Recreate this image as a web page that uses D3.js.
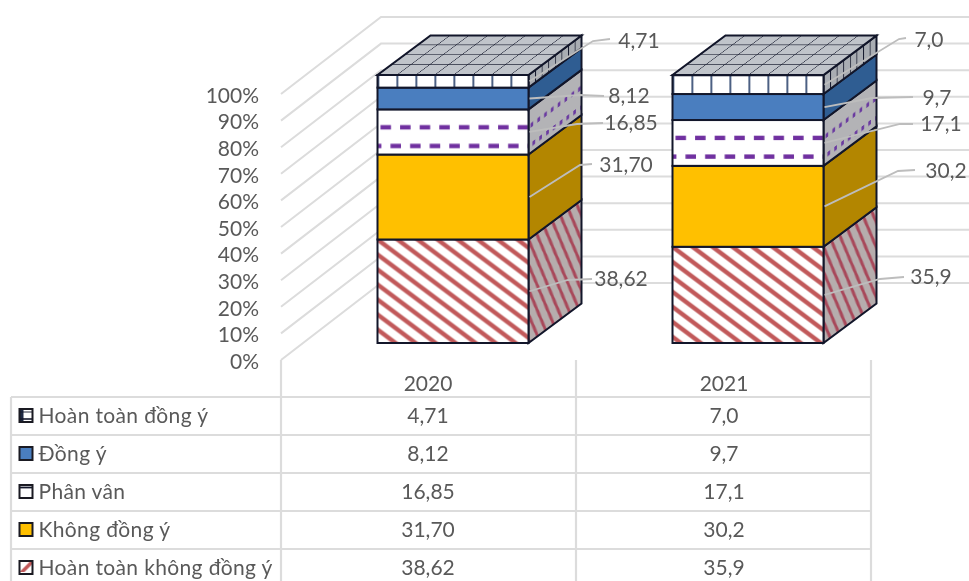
<!DOCTYPE html>
<html><head><meta charset="utf-8">
<script src="https://cdn.jsdelivr.net/npm/d3@7"></script>
<style>html,body{margin:0;padding:0;background:#fff}svg{display:block;filter:blur(.5px)}text{font-family:Lato,"Open Sans",sans-serif;fill:#595959}</style>
</head><body><svg id="c" width="969" height="581"></svg>
<script>
const years = ["2020","2021"];
const seriesNames = ["Hoàn toàn không đồng ý","Không đồng ý","Phân vân","Đồng ý","Hoàn toàn đồng ý"];
const values2020 = [38.62,31.70,16.85,8.12,4.71];
const values2021 = [35.9,30.2,17.1,9.7,7.0];
const labels2020 = ["38,62","31,70","16,85","8,12","4,71"];
const labels2021 = ["35,9","30,2","17,1","9,7","7,0"];
const tableOrder = [4,3,2,1,0];
const yTicks = [0,10,20,30,40,50,60,70,80,90,100];

const W=969,H=581, INK="#12162a", GRID="#dcdcdc", LEAD="#bdbdbd", FS=21;
const svg=d3.select("#c"), defs=svg.append("defs");
const wallOff={x:100,y:-77}, barOff={x:53,y:-39.5};
const yFront=d3.scaleLinear().domain([0,100]).range([360,94]);
const yBar=d3.scaleLinear().domain([0,100]).range([343,75]);
const xBand=d3.scaleBand().domain(years).range([281,871]);
const barW=151;
const barX=y=>xBand(y)+96.5;

function pat(id,w,h,bg,draw,tf){
  const p=defs.append("pattern").attr("id",id).attr("patternUnits","userSpaceOnUse").attr("width",w).attr("height",h);
  if(tf)p.attr("patternTransform",tf);
  p.append("rect").attr("width",w).attr("height",h).attr("fill",bg);
  draw(p);
}
const ln=(p,x1,y1,x2,y2,c,sw)=>p.append("line").attr("x1",x1).attr("y1",y1).attr("x2",x2).attr("y2",y2).attr("stroke",c).attr("stroke-width",sw);
const RED="#c1595a", PUR="#7030a0";
pat("hatchF",20,15,"#fff",p=>{[-20,0,20].forEach(o=>ln(p,o-4,-3,o+24,18,RED,4.4));});
pat("hatchS",8,25,"#b6adad",p=>{[-8,0,8].forEach(o=>ln(p,o-1,-3.1,o+9,27.9,"#a8485a",2.4));});
pat("dashF",19.6,60,"#fff",p=>{
  p.append("rect").attr("x",3).attr("y",15.7).attr("width",10.5).attr("height",4.4).attr("fill",PUR);
  p.append("rect").attr("x",13).attr("y",34.4).attr("width",6.6).attr("height",4.4).attr("fill",PUR);
  p.append("rect").attr("x",0).attr("y",34.4).attr("width",3.9).attr("height",4.4).attr("fill",PUR);
});
pat("dashS",6.8,60,"#b3b3b6",p=>{
  p.append("rect").attr("x",2).attr("y",15.5).attr("width",2.7).attr("height",4.4).attr("fill","#6a3aa0");
  p.append("rect").attr("x",4).attr("y",35).attr("width",2.7).attr("height",4.4).attr("fill","#6a3aa0");
});
pat("cellF",19,40,"#fff",p=>{ln(p,0,0,0,40,"#1f3864",3.2);});
pat("cellS",6.6,40,"#a9adb3",p=>{ln(p,0,0,0,40,INK,1.6);});
pat("cellT",18.9,9.9,"#c0c4ca",p=>{ln(p,0,0,0,9.9,INK,1.6);ln(p,0,0,18.9,0,INK,1.6);});

const fillF=["url(#hatchF)","#ffc000","url(#dashF)","#4a7ebf","url(#cellF)"];
const fillS=["url(#hatchS)","#b38600","url(#dashS)","#2f5d92","url(#cellS)"];

const wall=svg.append("g").attr("fill","none").attr("stroke",GRID).attr("stroke-width",2);
wall.selectAll("path").data(yTicks).join("path").attr("d",t=>{
  const y0=yFront(t);
  return d3.line()([[281,y0],[281+wallOff.x,y0+wallOff.y],[W,y0+wallOff.y]]);
});
svg.append("g").selectAll("text").data(yTicks).join("text")
  .attr("x",259).attr("y",t=>yFront(t)+1.5).attr("dy",".35em").attr("text-anchor","end")
  .attr("font-size",FS).text(t=>t+"%");

const stacks=d3.stack().keys(d3.range(5))([values2020,values2021]);
years.forEach((yr,i)=>{
  const g=svg.append("g"), x0=barX(yr);
  stacks.forEach((s,k)=>{
    const yb=yBar(s[i][0]), yt=yBar(s[i][1]), h=yb-yt;
    const slope=barOff.y/barOff.x;
    g.append("rect").attr("transform",`matrix(1,${slope},0,1,${x0+barW},${yt})`)
      .attr("width",barOff.x).attr("height",h).attr("fill",fillS[k]).attr("stroke","none");
    g.append("path").attr("d",d3.line()([[x0+barW,yt],[x0+barW+barOff.x,yt+barOff.y],[x0+barW+barOff.x,yb+barOff.y],[x0+barW,yb]])+"Z")
      .attr("fill","none").attr("stroke",INK).attr("stroke-width",2);
    g.append("rect").attr("transform",`translate(${x0},${yt})`)
      .attr("width",barW).attr("height",h).attr("fill",fillF[k]).attr("stroke",INK).attr("stroke-width",2);
  });
  const ty=yBar(100);
  const tf=`matrix(1,0,${barOff.x/(-barOff.y)},-1,${x0},${ty})`;
  g.append("rect").attr("transform",tf).attr("width",barW).attr("height",-barOff.y).attr("fill","url(#cellT)");
  g.append("path").attr("d",d3.line()([[x0,ty],[x0+barW,ty],[x0+barW+barOff.x,ty+barOff.y],[x0+barOff.x,ty+barOff.y]])+"Z")
    .attr("fill","none").attr("stroke",INK).attr("stroke-width",2);
});

const labelPos={
 "2020":[[621,279],[626,165],[631,123],[629,96],[639,41]],
 "2021":[[931,277],[946,171],[941,124],[937,98],[929,40]]
};
const elbow={
 "2020":[[[568,280],[592,279]],[[580,165],[592,164]],[[577,124],[603,123]],[[580,95],[604,96]],[[593,41],[610,39]]],
 "2021":[[[880,279],[904,277]],[[898,171],[915,170]],[[900,124],[913,124]],[[872,98],[913,97]],[[899,39],[906,38]]]
};
const lab=[labels2020,labels2021];
years.forEach((yr,i)=>{
  const ex=barX(yr)+barW+1;
  stacks.forEach((s,k)=>{
    const ym=yBar((s[i][0]+s[i][1])/2);
    svg.append("path").attr("d",d3.line()([[ex,ym],...elbow[yr][k]])).attr("fill","none").attr("stroke",LEAD).attr("stroke-width",1.8);
    svg.append("text").attr("x",labelPos[yr][k][0]).attr("y",labelPos[yr][k][1]).attr("dy",".35em")
      .attr("text-anchor","middle").attr("font-size",FS).text(lab[i][k]);
  });
});

const rowY=[397,435,473,511,549,587];
const t=svg.append("g").attr("stroke",GRID).attr("stroke-width",2.2);
rowY.forEach(y=>t.append("line").attr("x1",11).attr("x2",871).attr("y1",y).attr("y2",y));
[281,576,871].forEach(x=>t.append("line").attr("x1",x).attr("x2",x).attr("y1",360).attr("y2",587));
t.append("line").attr("x1",11).attr("x2",11).attr("y1",397).attr("y2",587);
const colC=d3.scalePoint().domain(years).range([428,724]);
years.forEach(y=>svg.append("text").attr("x",colC(y)).attr("y",384).attr("dy",".35em").attr("text-anchor","middle").attr("font-size",FS).text(y));
const keyF=["url(#keyH)","#ffc000","url(#keyP)","#4a7ebf","url(#keyC)"];
pat("keyH",13,13,"#fff",p=>{p.attr("patternTransform","translate(19.5,0)");p.append("path").attr("d","M0 13L13 0L13 5L5 13Z").attr("fill",RED);});
pat("keyP",13,13,"#fff",p=>{ln(p,0,6.5,13,6.5,INK,1.8);});
pat("keyC",13,13,"#fff",p=>{p.attr("patternTransform","translate(19.5,0)");p.append("rect").attr("width",4).attr("height",13).attr("fill","#1f2a44");ln(p,0,3,13,3,INK,1.6);ln(p,0,9,13,9,INK,0.9);});
tableOrder.forEach((k,r)=>{
  const yc=(rowY[r]+rowY[r+1])/2-0.5;
  svg.append("rect").attr("x",19.5).attr("y",yc-6.5).attr("width",13).attr("height",13)
    .attr("fill",keyF[k]).attr("stroke","#1a1a22").attr("stroke-width",2);
  svg.append("text").attr("x",38.5).attr("y",yc).attr("dy",".35em").attr("font-size",FS).style("letter-spacing","0.36px").text(seriesNames[k]);
  years.forEach((y,i)=>svg.append("text").attr("x",colC(y)).attr("y",yc).attr("dy",".35em").attr("text-anchor","middle").attr("font-size",FS).text(lab[i][k]));
});
</script></body></html>
